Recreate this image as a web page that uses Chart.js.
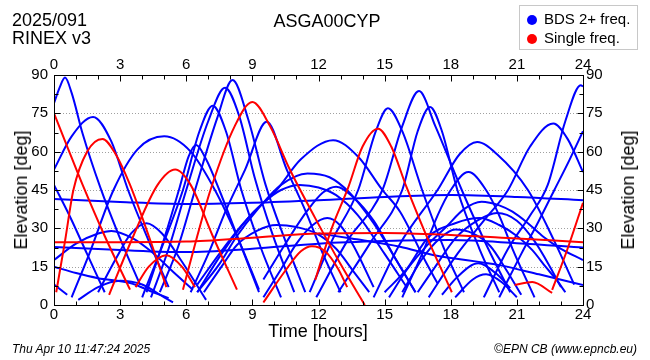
<!DOCTYPE html>
<html>
<head>
<meta charset="utf-8">
<script src="https://cdn.jsdelivr.net/npm/chart.js@4/dist/chart.umd.min.js"></script>
<style>
  html,body{margin:0;padding:0;background:#fff;}
  #wrap{position:relative;width:650px;height:360px;overflow:hidden;font-family:"Liberation Sans",Arial,Helvetica,sans-serif;color:#000;}
  #c{position:absolute;left:0;top:0;}
  .t{position:absolute;white-space:nowrap;line-height:1;}
  .h{font-size:18px;}
  .foot{font-size:12px;font-style:italic;}
  #legend{position:absolute;left:519px;top:5px;width:117px;height:43px;border:1px solid #c8c8c8;background:#fff;}
  .li{position:absolute;left:7px;font-size:15px;line-height:1;white-space:nowrap;}
  .dot{display:inline-block;width:10px;height:10px;border-radius:50%;margin-right:7px;vertical-align:-1px;}
  .rot{position:absolute;font-size:18px;line-height:1;white-space:nowrap;transform:translate(-50%,-50%) rotate(-90deg);}
</style>
</head>
<body>
<div id="wrap">
  <canvas id="c" width="650" height="360"></canvas>
  <div class="t h" style="left:12px;top:11px">2025/091</div>
  <div class="t h" style="left:12px;top:29px">RINEX v3</div>
  <div class="t h" style="left:327px;top:12px;transform:translateX(-50%)">ASGA00CYP</div>
  <div id="legend">
    <div class="li" style="top:5px"><span class="dot" style="background:#0000ff"></span>BDS 2+ freq.</div>
    <div class="li" style="top:24px"><span class="dot" style="background:#ff0000"></span>Single freq.</div>
  </div>
  <div class="rot" style="left:21px;top:190px">Elevation [deg]</div>
  <div class="rot" style="left:628px;top:190px">Elevation [deg]</div>
  <div class="t h" style="left:318px;top:322px;transform:translateX(-50%)">Time [hours]</div>
  <div class="t foot" style="left:12px;top:343px">Thu Apr 10 11:47:24 2025</div>
  <div class="t foot" style="right:13px;top:343px">©EPN CB (www.epncb.eu)</div>
</div>
<script>
// ---- axis definitions ----
const hourTicks = [0, 3, 6, 9, 12, 15, 18, 21, 24];
const elevTicks = [0, 15, 30, 45, 60, 75, 90];

// ---- satellite tracks: [hour, elevation deg] ----
// BDS 2+ frequency satellites (blue)
const B01 = [[0,79],[0.25,85],[0.5,89],[0.8,83],[1.3,67],[2.1,46],[3.0,26],[3.9,8]];
const B02 = [[0,53],[0.8,66],[1.77,73.6],[2.6,64],[3.36,45],[4.3,25],[5.2,7]];
const B03 = [[0.8,3],[1.6,20],[2.7,45],[3.8,61],[5.0,66],[6.2,60],[7.3,45],[8.4,25],[9.3,6]];
const B04 = [[4.2,5],[5.0,26],[5.7,46],[6.1,58],[6.45,62.6],[6.9,57],[7.5,45],[8.4,25],[9.3,5]];
const B05 = [[4.0,3],[5.0,25],[5.85,45],[6.6,68],[7.2,78],[7.8,68],[8.5,45],[9.4,22],[10.3,3]];
const B06 = [[4.4,3],[5.2,22],[6.0,45],[7.0,72],[7.76,85],[8.4,74],[9.1,50],[9.9,28],[10.9,5]];
const B07 = [[4.8,5],[5.6,22],[6.4,45],[7.4,73],[8.1,88],[8.8,73],[9.6,47],[10.5,25],[11.4,5]];
const B08 = [[6.2,5],[7.0,20],[7.8,37],[8.67,53],[9.65,71.7],[10.56,53],[11.4,37],[12.2,20],[13.0,5]];
const B09 = [[6.5,5],[7.5,16],[8.3,27],[9.2,37],[10.3,47],[11.5,51.5],[12.5,50],[13.4,44],[14.5,32],[15.5,18],[16.4,5]];
const B10 = [[6.5,5],[7.6,20],[8.8,34],[10.1,45],[11.2,57],[12.66,64.5],[13.8,58],[14.9,45],[15.7,36.5],[16.9,16.3],[17.4,8.5]];
const B11 = [[11.6,5],[12.6,25],[13.8,45],[14.6,68],[15.15,77],[15.8,68],[16.7,45],[17.7,22],[18.6,5]];
const B12 = [[11.9,3],[13.3,25],[14.9,45],[15.8,70],[16.56,83.7],[17.3,70],[18.5,45],[19.7,22],[20.7,5]];
const B13 = [[12.9,5],[14.4,25],[15.8,45],[16.5,68],[17.06,77.5],[17.6,68],[18.3,45],[19.3,22],[20.2,5]];
const B14 = [[14.5,3],[15.7,24],[17.4,45],[18.4,59],[19.2,63.8],[20.1,59],[21.5,45],[22.7,25],[23.6,8]];
const B15 = [[15.8,3],[16.8,22],[17.4,35],[18.0,45],[18.8,52],[19.6,45],[20.2,35],[20.8,22],[21.8,3]];
const B16 = [[17.0,3],[18.3,20],[19.5,33],[20.6,45],[21.6,62],[22.65,71],[23.3,65],[24,52]];
const B17 = [[19.5,3],[20.6,22],[21.6,35],[22.4,47],[23.2,72],[23.9,86],[24,85.5]];
const B18 = [[20.2,3],[21.2,20],[22.0,33],[22.7,45],[23.4,57],[24,68]];
const B19 = [[6.5,8],[7.5,20],[8.5,31],[9.5,40],[10.3,45],[11.15,47],[12.0,46],[12.8,43],[13.8,35],[15.0,20],[16.0,7]];
const B20 = [[9.5,10],[10.5,24],[11.5,37],[12.2,44],[12.8,46.3],[13.6,42],[14.5,33],[15.5,18],[16.4,5]];
const B21 = [[9.5,3],[10.3,14],[11.0,24],[11.7,31],[12.4,34],[13.0,31],[13.6,23],[14.5,7]];
const B22 = [[6.8,5],[7.6,15],[8.3,23.5],[9.2,29],[10.1,31.3],[11.0,30.5],[11.9,28],[12.8,22],[13.6,13],[14.3,5]];
const B23 = [[15.2,3],[16.0,13.7],[17.0,24],[17.8,30.6],[18.6,37.5],[19.4,40.4],[20.2,39],[20.8,36.5],[21.5,32],[22.2,26.7],[23.0,22],[24,17.6]];
const B24 = [[15.0,5],[16.0,14],[17.0,26.7],[18.2,32],[19.3,34],[20.2,31.3],[21.0,27],[21.7,21.5],[22.3,15],[22.8,9.8],[23.2,5]];
const B25 = [[16.5,5],[17.3,15],[18.2,26],[19.2,33],[20.1,36],[21.0,33],[21.8,25],[22.5,15],[23.0,7]];
const B26 = [[17.6,4],[18.3,11],[19.25,16.3],[20.1,12],[20.7,6.6]];
const B27 = [[18.2,3],[19.0,10],[19.6,12],[20.3,9],[21.0,3]];
const B28 = [[12,28],[13.5,26],[15.7,22.8],[17.2,19.6],[20.2,15.6],[22,12],[24,7.8]];
const B29 = [[15.8,5],[16.7,18],[17.5,26],[18.2,29.5],[19.0,28],[19.8,23],[20.5,14],[21.2,4]];
const B30 = [[0,41.5],[3,40.3],[6,39.5],[9,40],[12,41],[15,42.3],[18,43],[21,42.3],[24,41]];
const B31 = [[0,22.7],[3,21.5],[6,20.7],[9,22],[12,24],[15,25],[18,25.4],[21,24.2],[24,22.5]];
const B32 = [[0,47],[0.7,35],[1.5,20],[2.3,5]];
const B33 = [[0,8],[0.6,4]];
const B34 = [[0,17.6],[1,24],[2,28],[2.6,29],[3.6,26],[4.4,21],[5.4,13],[6.3,6]];
const B35 = [[2.0,5],[2.8,18],[3.5,28],[4.2,32],[4.9,28],[5.8,17],[6.9,2]];
const B36 = [[0,15],[1,12.5],[2,10.5],[3.45,8.6],[4.5,5],[5.2,2.7]];
const B37 = [[1.1,2],[2,7],[3,9.5],[4,8],[5,3],[5.4,1]];

// Single frequency satellites (red)
const R01 = [[0,75],[0.6,62],[1.3,47],[2.3,27],[3.45,6]];
const R02 = [[0.1,5],[0.5,25],[0.88,45],[1.5,60],[2.2,65],[2.8,59],[3.45,47],[4.3,27],[5.1,7]];
const R03 = [[2.5,4],[3.6,27],[4.7,47],[5.5,53],[6.2,47],[7.2,27],[8.3,6]];
const R04 = [[3.7,7],[4.3,15],[5.1,19.5],[5.8,15],[6.4,7]];
const R05 = [[5.85,6],[6.5,27],[7.1,45],[8.2,70],[9.0,79.4],[9.8,70],[10.7,53],[11.85,34],[13.0,16],[14.1,0]];
const R06 = [[9.5,1],[10.5,13.5],[11.2,21],[11.7,23],[12.3,21],[12.9,14],[13.3,7]];
const R07 = [[11.85,9.8],[12.6,30],[13.35,46],[14.0,62],[14.7,69],[15.3,62],[16.0,46],[17.0,25],[18.05,5]];
const R08 = [[20.9,7.8],[21.7,9],[22.6,4.7]];
const R09 = [[22.6,5.9],[23.3,22],[24,40]];
const R10 = [[0,24.6],[3,24.6],[6,24.8],[9,26.3],[12,28],[15,28.2],[18,27.4],[21,26],[24,24.6]];

const blueTracks = [B01,B02,B03,B04,B05,B06,B07,B08,B09,B10,B11,B12,B13,B14,B15,B16,B17,B18,B19,B20,B21,B22,B23,B24,B25,B26,B27,B28,B29,B30,B31,B32,B33,B34,B35,B36,B37];
const redTracks = [R01,R02,R03,R04,R05,R06,R07,R08,R09,R10];

const BLUE = '#0000ff', RED = '#ff0000';

function mk(track, color, order) {
  return {
    data: track.map(p => ({x: p[0], y: p[1]})),
    borderColor: color,
    backgroundColor: color,
    borderWidth: 2,
    pointRadius: 0,
    fill: false,
    cubicInterpolationMode: 'monotone',
    order: order
  };
}
const datasets = [
  ...redTracks.map(t => mk(t, RED, 0)),
  ...blueTracks.map(t => mk(t, BLUE, 1))
];

const FONT = {family: '"Liberation Sans", Arial, Helvetica, sans-serif', size: 15};

const framePlugin = {
  id: 'frame',
  beforeDatasetsDraw(chart) {
    const {ctx, chartArea: a, scales} = chart;
    ctx.save();
    ctx.strokeStyle = '#a0a0a0';
    ctx.lineWidth = 1;
    ctx.setLineDash([1, 2]);
    elevTicks.forEach(v => {
      if (v <= 0 || v >= 90) return;
      const py = Math.round(scales.y.getPixelForValue(v)) + 0.5;
      ctx.beginPath(); ctx.moveTo(a.left, py); ctx.lineTo(a.right, py); ctx.stroke();
    });
    ctx.restore();
  },
  afterDraw(chart) {
    const {ctx, chartArea: a, scales} = chart;
    ctx.save();
    ctx.strokeStyle = '#000';
    ctx.lineWidth = 1;
    ctx.setLineDash([]);
    const L = Math.round(a.left) + 0.5, R = Math.round(a.right) + 0.5;
    const T = Math.round(a.top) + 0.5, B = Math.round(a.bottom) + 0.5;
    ctx.strokeRect(L, T, R - L, B - T);
    ctx.beginPath();
    for (let h = 0; h <= 24; h += 1) {
      const px = Math.round(scales.x.getPixelForValue(h)) + 0.5;
      const len = (h % 3 === 0) ? 6 : 4;
      ctx.moveTo(px, B); ctx.lineTo(px, B - len);
      ctx.moveTo(px, T); ctx.lineTo(px, T + len);
    }
    for (let e = 0; e <= 90; e += 7.5) {
      const py = Math.round(scales.y.getPixelForValue(e)) + 0.5;
      const len = (e % 15 === 0) ? 6 : 4;
      ctx.moveTo(L, py); ctx.lineTo(L + len, py);
      ctx.moveTo(R, py); ctx.lineTo(R - len, py);
    }
    ctx.stroke();
    ctx.restore();
  }
};

function xAxis(pos, h) {
  return {
    type: 'linear', position: pos, min: 0, max: 24,
    afterBuildTicks: s => { s.ticks = hourTicks.map(v => ({value: v})); },
    ticks: {font: FONT, color: '#000', padding: 1, maxRotation: 0, autoSkip: false},
    grid: {display: false, drawTicks: false},
    border: {display: false},
    afterFit: s => { s.height = h; }
  };
}
function yAxis(pos, w, pad) {
  return {
    type: 'linear', position: pos, min: 0, max: 90,
    afterBuildTicks: s => { s.ticks = elevTicks.map(v => ({value: v})); },
    ticks: {font: FONT, color: '#000', padding: pad, autoSkip: false},
    grid: {display: false, drawTicks: false},
    border: {display: false},
    afterFit: s => { s.width = w; }
  };
}

new Chart(document.getElementById('c'), {
  type: 'line',
  data: {datasets},
  options: {
    responsive: false,
    animation: false,
    devicePixelRatio: 1,
    layout: {padding: 0},
    plugins: {legend: {display: false}, tooltip: {enabled: false}},
    scales: {
      x: xAxis('bottom', 55),
      x2: xAxis('top', 75),
      y: yAxis('left', 54, 6),
      y2: yAxis('right', 67, 3)
    }
  },
  plugins: [framePlugin]
});
</script>
</body>
</html>
